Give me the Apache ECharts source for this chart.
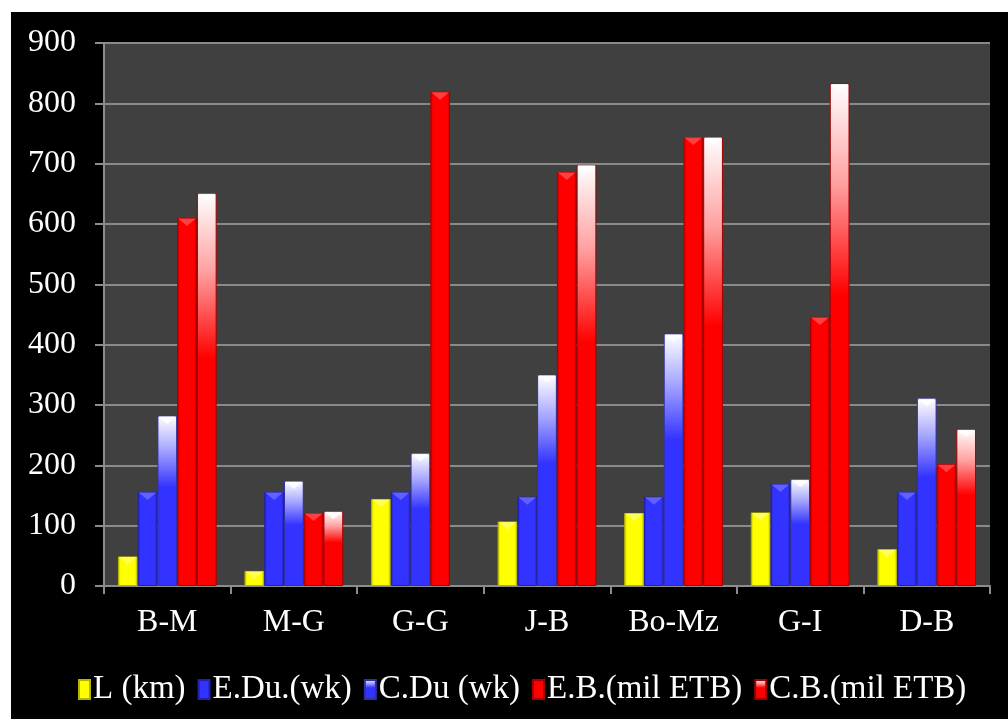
<!DOCTYPE html>
<html>
<head>
<meta charset="utf-8">
<script src="https://cdn.jsdelivr.net/npm/echarts@6/dist/echarts.min.js"></script>
<style>
  html, body { margin: 0; padding: 0; background: #ffffff; width: 1008px; height: 719px; overflow: hidden; }
  #chart { position: absolute; left: 11px; top: 12px; width: 997px; height: 707px; }
</style>
</head>
<body>
<div id="chart"></div>
<script>
// Road sections
const categories = ['B-M', 'M-G', 'G-G', 'J-B', 'Bo-Mz', 'G-I', 'D-B'];
const seriesNames = ['L (km)', 'E.Du.(wk)', 'C.Du (wk)', 'E.B.(mil ETB)', 'C.B.(mil ETB)'];

// Length, estimated / contract durations, estimated / contract budgets
const lengthKm      = [49, 25, 144, 107, 121, 122, 61];
const estDuration   = [156, 156, 156, 148, 148, 169, 156];
const conDuration   = [282, 174, 220, 350, 418, 177, 311];
const estBudget     = [610, 121, 819, 686, 744, 446, 202];
const conBudget     = [651, 124, 0, 698, 744, 833, 260];

const yTicks = [0, 100, 200, 300, 400, 500, 600, 700, 800, 900];

const FONT = '"Liberation Serif", "Times New Roman", serif';
const FONT_SIZE = 32;
const CAT_GAP = 0.22;

// Solid bar fill: darker at the side edges, bright in the middle
function solid(base, edge) {
  return new echarts.graphic.LinearGradient(0, 0, 1, 0, [
    { offset: 0, color: edge },
    { offset: 0.14, color: base },
    { offset: 0.86, color: base },
    { offset: 1, color: edge }
  ]);
}
// Fading bar fill: white at the top running into the base colour
function fade(base, mid) {
  return new echarts.graphic.LinearGradient(0, 0, 0, 1, [
    { offset: 0, color: '#ffffff' },
    { offset: 0.2, color: mid },
    { offset: 0.42, color: base },
    { offset: 1, color: base }
  ]);
}

const styles = [
  { color: solid('#ffff00', '#c4c400'), border: '#b5b500', bevel: '#ffff66' },
  { color: solid('#3333ff', '#2323b8'), border: '#2020a8', bevel: '#6a6aff' },
  { color: fade('#3333ff', '#a5a5ff'), border: '#3030a0', bevel: '#ffffff' },
  { color: solid('#ff0000', '#b80000'), border: '#a80000', bevel: '#ff4a4a' },
  { color: fade('#ff0000', '#ffa0a0'), border: '#a00000', bevel: '#ffffff' }
];

const values = [lengthKm, estDuration, conDuration, estBudget, conBudget];

const barSeries = seriesNames.map((name, i) => ({
  name: name,
  type: 'bar',
  data: values[i].map(v => ({
    value: v,
    itemStyle: { borderWidth: v > 0 ? 1 : 0 }
  })),
  barGap: '0%',
  barCategoryGap: (CAT_GAP * 100) + '%',
  itemStyle: { color: styles[i].color, borderColor: styles[i].border, borderWidth: 1 }
}));

// Bevelled top of each bar: a small downward triangle laid over the bar top
const bevelSeries = seriesNames.map((name, i) => ({
  name: name + ' top',
  type: 'custom',
  silent: true,
  z: 3,
  data: values[i].map((v, c) => [c, v]),
  renderItem: function (params, api) {
    const v = api.value(1);
    if (!(v > 0)) return null;
    const p = api.coord([api.value(0), v]);
    const catW = api.size([1, 0])[0];
    const bw = catW * (1 - CAT_GAP) / seriesNames.length;
    const x0 = p[0] - catW * (1 - CAT_GAP) / 2 + i * bw;
    const x1 = x0 + bw;
    const h = Math.min(bw * 0.42, 8);
    return {
      type: 'polygon',
      shape: { points: [[x0 + 1, p[1] + 0.5], [x1 - 1, p[1] + 0.5], [(x0 + x1) / 2, p[1] + h]] },
      style: { fill: styles[i].bevel, opacity: 0.85 }
    };
  }
}));

const chart = echarts.init(document.getElementById('chart'), null, { renderer: 'canvas' });

chart.setOption({
  backgroundColor: '#000000',
  animation: false,
  grid: {
    left: 93, top: 31, width: 886, height: 543,
    show: true, backgroundColor: '#404040', borderWidth: 0
  },
  legend: {
    left: 62, top: 656,
    itemWidth: 11, itemHeight: 19, itemGap: 12,
    icon: 'rect',
    textStyle: { color: '#ffffff', fontFamily: FONT, fontSize: 33, padding: [0, 0, 0, -2] },
    data: seriesNames
  },
  xAxis: {
    type: 'category',
    data: categories,
    axisLine: { lineStyle: { color: '#8c8c8c', width: 2 } },
    axisTick: { show: true, length: 8, lineStyle: { color: '#8c8c8c', width: 2 } },
    axisLabel: { color: '#ffffff', fontFamily: FONT, fontSize: FONT_SIZE, margin: 21 }
  },
  yAxis: {
    type: 'value',
    min: yTicks[0], max: yTicks[yTicks.length - 1], interval: 100,
    axisLine: { show: true, lineStyle: { color: '#8c8c8c', width: 2 } },
    axisTick: { show: true, length: 9, lineStyle: { color: '#8c8c8c', width: 2 } },
    splitLine: { lineStyle: { color: '#8a8a8a', width: 2 } },
    axisLabel: { color: '#ffffff', fontFamily: FONT, fontSize: FONT_SIZE, margin: 28 }
  },
  series: barSeries.concat(bevelSeries)
});
</script>
</body>
</html>
